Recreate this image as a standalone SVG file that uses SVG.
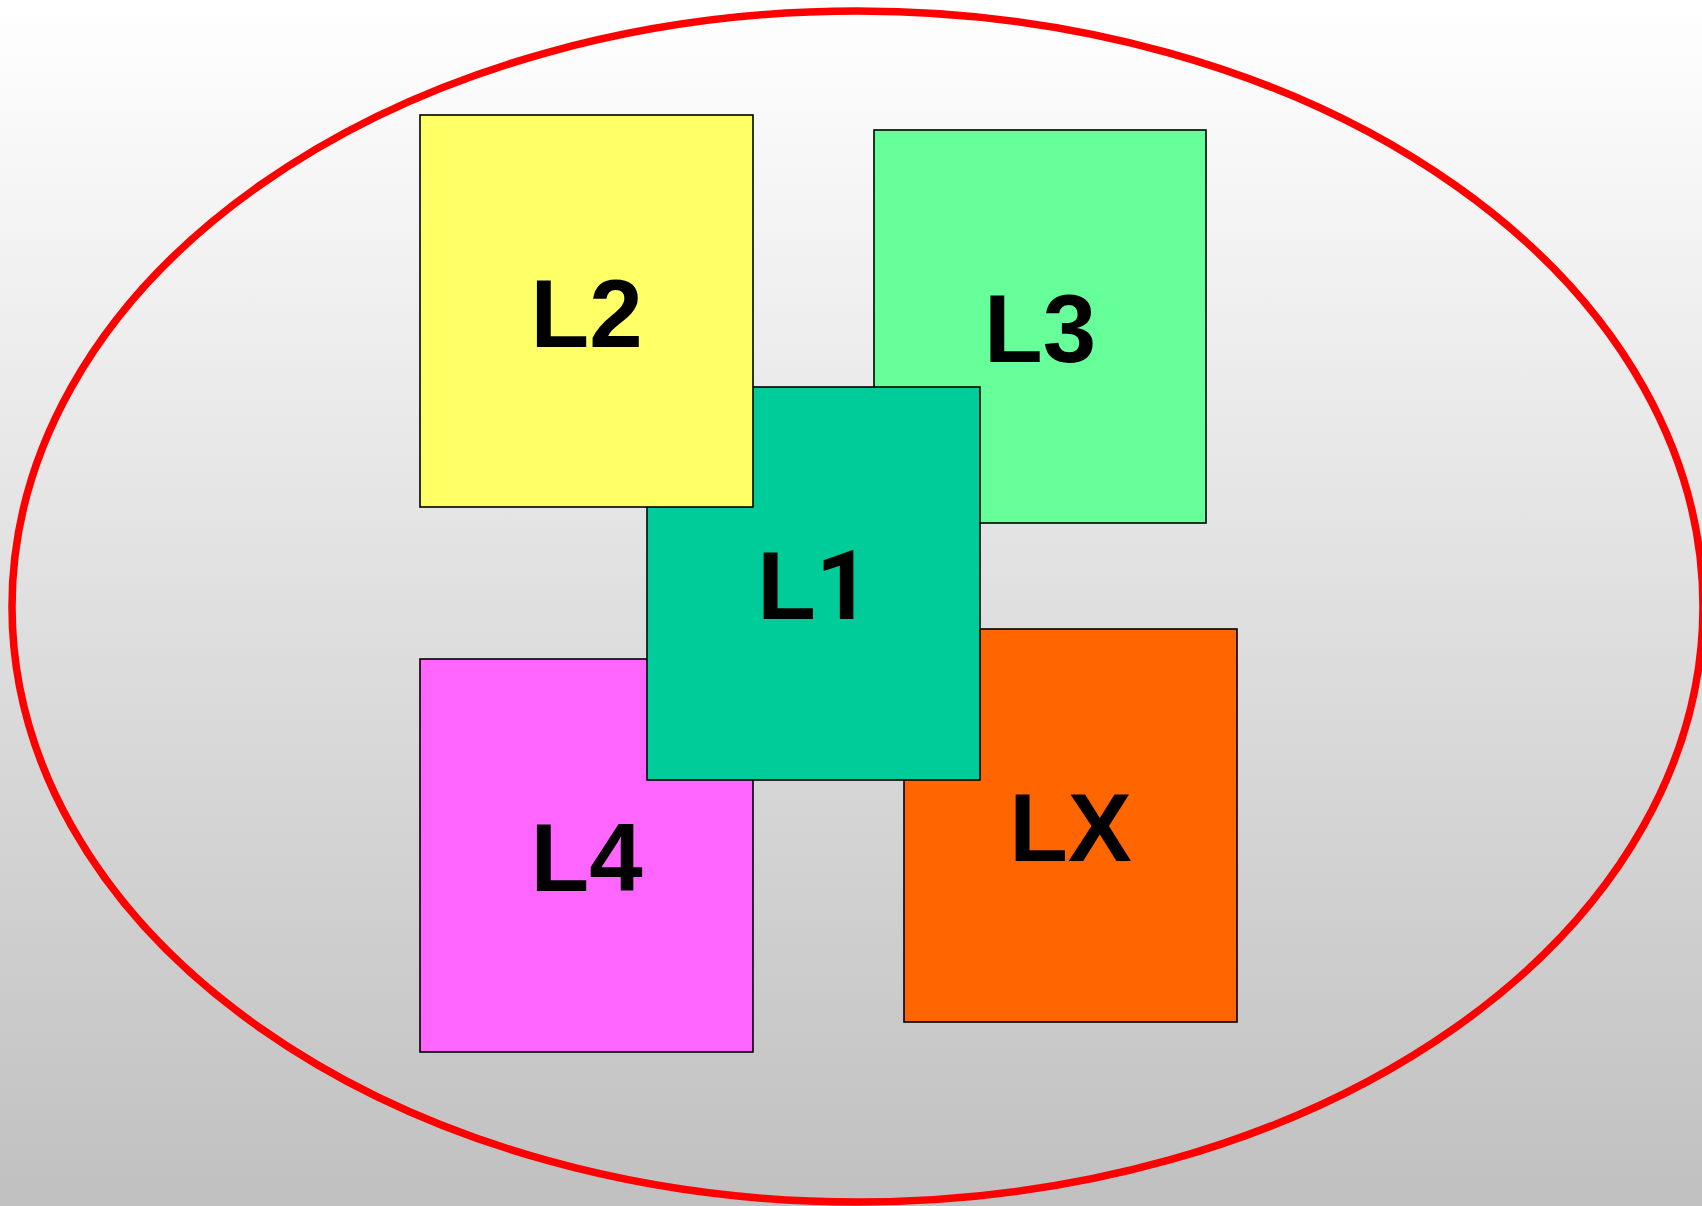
<svg xmlns="http://www.w3.org/2000/svg" width="1702" height="1206" viewBox="0 0 1702 1206">
  <defs>
    <linearGradient id="bg" x1="0" y1="0" x2="0" y2="1">
      <stop offset="0" stop-color="#FFFFFF"/>
      <stop offset="1" stop-color="#C0C0C0"/>
    </linearGradient>
    <style>
      .box { stroke: #000000; stroke-width: 1.6; }
      .lbl { font-family: "Liberation Sans", Arial, sans-serif; font-weight: bold; font-size: 96px; fill: #000000; text-anchor: middle; }
      .one { font-family: Roboto, "Liberation Sans", sans-serif; font-weight: bold; }
    </style>
  </defs>
  <rect x="0" y="0" width="1702" height="1206" fill="url(#bg)"/>
  <ellipse cx="857.5" cy="606.5" rx="845.5" ry="595.5" fill="none" stroke="#FF0000" stroke-width="7.5"/>
  <g id="connectors"></g>
  <g id="L3">
    <rect class="box" x="874" y="130" width="332" height="393" fill="#66FF99"/>
    <text class="lbl" x="1040" y="362">L3</text>
  </g>
  <g id="L4">
    <rect class="box" x="420" y="659" width="333" height="393" fill="#FF66FF"/>
    <text class="lbl" x="586.5" y="891">L4</text>
  </g>
  <g id="LX">
    <rect class="box" x="904" y="629" width="333" height="393" fill="#FF6600"/>
    <text class="lbl" x="1070.5" y="861">LX</text>
  </g>
  <g id="L1">
    <rect class="box" x="647" y="387" width="333" height="393" fill="#00CC99"/>
    <text class="lbl" x="814" y="619">L<tspan class="one">1</tspan></text>
  </g>
  <g id="L2">
    <rect class="box" x="420" y="115" width="333" height="392" fill="#FFFF66"/>
    <text class="lbl" x="586.5" y="347">L2</text>
  </g>
</svg>
